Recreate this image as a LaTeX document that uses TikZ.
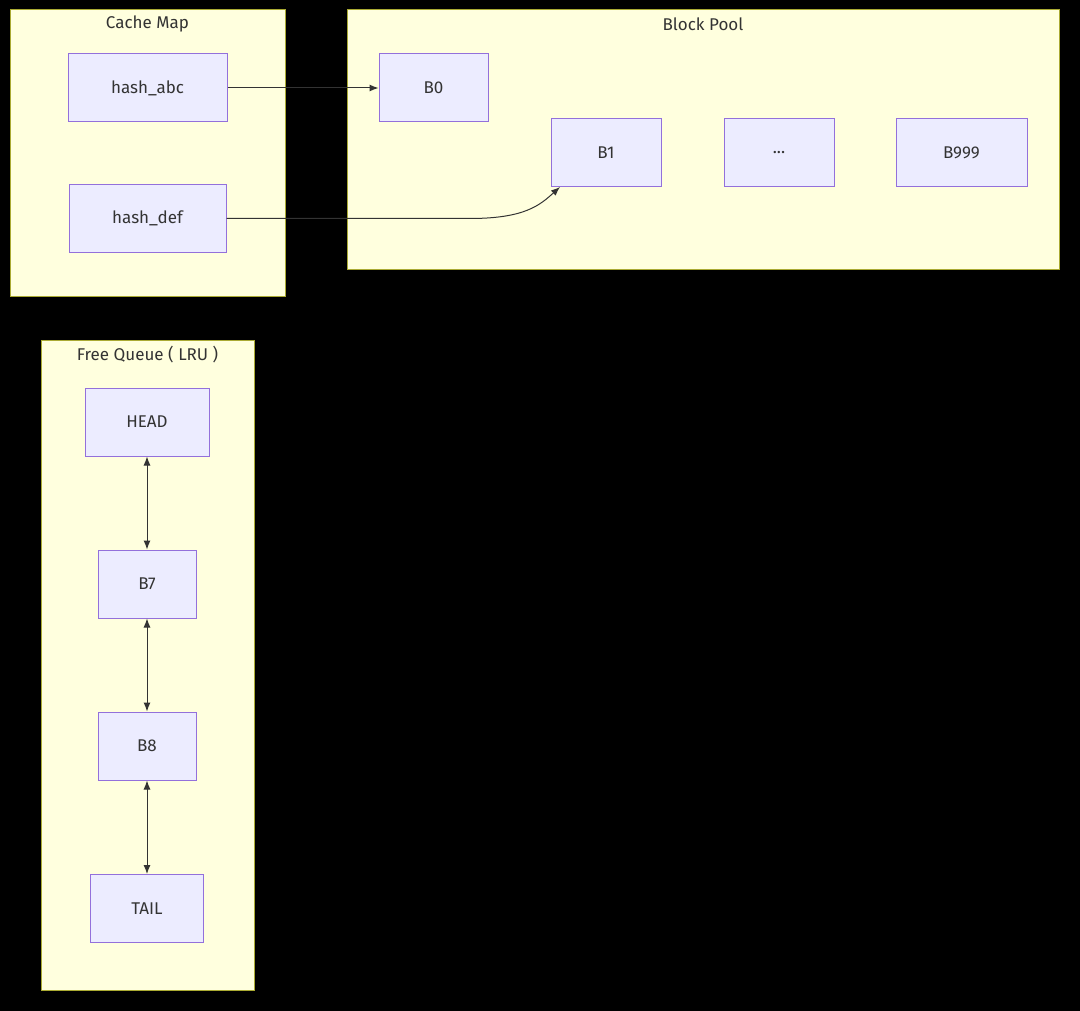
\documentclass[tikz,border=0pt]{standalone}
\usepackage{fontspec}
\setmainfont{Fira Sans}
\usetikzlibrary{arrows.meta}
\definecolor{nodefill}{HTML}{ECECFF}
\definecolor{nodeline}{HTML}{9370DB}
\definecolor{clusterfill}{HTML}{FFFFDE}
\definecolor{clusterline}{HTML}{AAAA33}
\definecolor{pilcol}{HTML}{333333}
\begin{document}
\begin{tikzpicture}[
    x=1pt, y=-1pt,
    blokk/.style = {rectangle, draw=nodeline, fill=nodefill, line width=1pt,
                    minimum height=68pt, inner sep=0pt,
                    font=\fontsize{17}{20}\selectfont, text=pilcol},
    klynge/.style = {draw=clusterline, fill=clusterfill, line width=1pt},
    tittel/.style = {font=\fontsize{17}{20}\selectfont, text=pilcol},
    pil/.style = {pilcol, line width=1pt, -{Latex[length=9pt,width=7pt]}},
    dobbelpil/.style = {pilcol, line width=1pt, {Latex[length=9pt,width=7pt]}-{Latex[length=9pt,width=7pt]}}
    ]

  \fill[black] (0,0) rectangle (1080,1011);

  % clusters
  \draw[klynge] (10,10) rectangle (285,297);
  \node[tittel] (cachetitle) at (147.5,24) {Cache Map};
  \draw[klynge] (347,10) rectangle (1059,270);
  \node[tittel] (pooltitle) at (703,24) {Block Pool};
  \draw[klynge] (41,341) rectangle (254,990);
  \node[tittel] (queuetitle) at (147.5,355) {Free Queue ( LRU )};

  % cache map
  \node[blokk, minimum width=159pt] (habc) at (147.5,88) {hash\_abc};
  \node[blokk, minimum width=157pt] (hdef) at (147.5,218.5) {hash\_def};

  % block pool
  \node[blokk, minimum width=109pt] (B0) at (433.5,88) {B0};
  \node[blokk, minimum width=110pt] (B1) at (606,153) {B1};
  \node[blokk, minimum width=110pt] (dots) at (779,153) {...};
  \node[blokk, minimum width=131pt] (B999) at (961.5,153) {B999};
  \coordinate (b1in) at (560,187);

  % free queue
  \node[blokk, minimum width=124pt] (head) at (147,422) {HEAD};
  \node[blokk, minimum width=98pt] (B7) at (147,584) {B7};
  \node[blokk, minimum width=98pt] (B8) at (147,746) {B8};
  \node[blokk, minimum width=113pt] (tail) at (147,908.5) {TAIL};

  \draw[pil] (habc) -- (B0);
  \draw[pil] (hdef.east) -- (470,218.5) .. controls (525,218.5) and (540,205) .. (b1in);

  \draw[dobbelpil] (head) -- (B7);
  \draw[dobbelpil] (B7) -- (B8);
  \draw[dobbelpil] (B8) -- (tail);

\end{tikzpicture}
\end{document}
